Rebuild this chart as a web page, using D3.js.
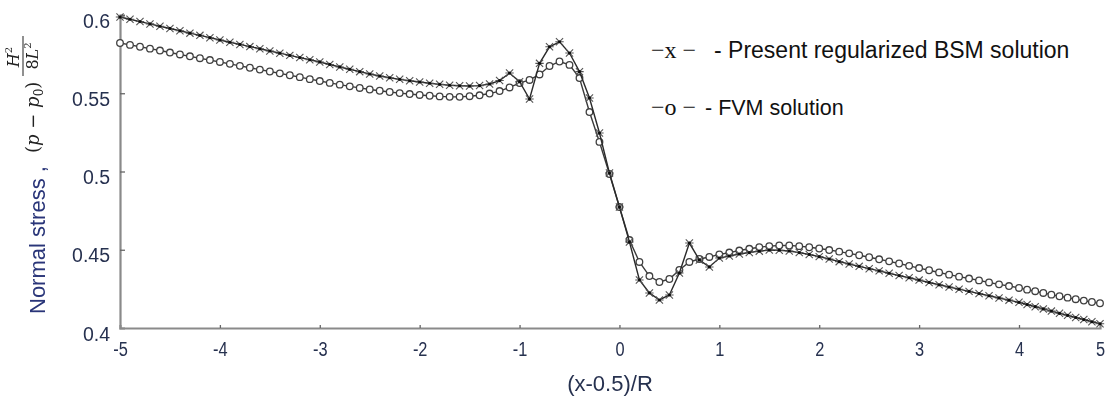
<!DOCTYPE html>
<html>
<head>
<meta charset="utf-8">
<script src="https://cdn.jsdelivr.net/npm/d3@7"></script>
<style>
  body { margin: 0; background: #fff; }
  svg { display: block; }
</style>
</head>
<body>
<svg id="chart" width="1112" height="402"></svg>
<script>
// Abscissa grid, (x-0.5)/R
const xGrid = [
  -5.0,-4.9,-4.8,-4.7,-4.6,-4.5,-4.4,-4.3,-4.2,-4.1,
  -4.0,-3.9,-3.8,-3.7,-3.6,-3.5,-3.4,-3.3,-3.2,-3.1,
  -3.0,-2.9,-2.8,-2.7,-2.6,-2.5,-2.4,-2.3,-2.2,-2.1,
  -2.0,-1.9,-1.8,-1.7,-1.6,-1.5,-1.4,-1.3,-1.2,-1.1,
  -1.0,-0.9,-0.8,-0.7,-0.6,-0.5,-0.4,-0.3,-0.2,-0.1,
   0.0, 0.1, 0.2, 0.3, 0.4, 0.5, 0.6, 0.7, 0.8, 0.9,
   1.0, 1.1, 1.2, 1.3, 1.4, 1.5, 1.6, 1.7, 1.8, 1.9,
   2.0, 2.1, 2.2, 2.3, 2.4, 2.5, 2.6, 2.7, 2.8, 2.9,
   3.0, 3.1, 3.2, 3.3, 3.4, 3.5, 3.6, 3.7, 3.8, 3.9,
   4.0, 4.1, 4.2, 4.3, 4.4, 4.5, 4.6, 4.7, 4.8, 4.9,
   5.0
];

// Present regularized BSM solution
const bsmValues = [
  0.5987,0.5973,0.5958,0.5943,0.5928,0.5914,0.5899,0.5884,0.5870,0.5855,
  0.5840,0.5826,0.5812,0.5798,0.5784,0.5770,0.5756,0.5742,0.5728,0.5714,
  0.5700,0.5684,0.5668,0.5653,0.5638,0.5623,0.5610,0.5599,0.5589,0.5580,
  0.5572,0.5564,0.5557,0.5551,0.5548,0.5546,0.5549,0.5559,0.5581,0.5629,
  0.5574,0.5463,0.5691,0.5797,0.5829,0.5757,0.5638,0.5470,0.5246,0.4990,
  0.4773,0.4550,0.4307,0.4224,0.4179,0.4211,0.4351,0.4543,0.4435,0.4390,
  0.4447,0.4460,0.4473,0.4482,0.4491,0.4498,0.4497,0.4492,0.4482,0.4470,
  0.4456,0.4441,0.4424,0.4409,0.4394,0.4379,0.4365,0.4350,0.4335,0.4321,
  0.4306,0.4291,0.4276,0.4262,0.4248,0.4234,0.4220,0.4206,0.4192,0.4178,
  0.4164,0.4150,0.4136,0.4122,0.4108,0.4094,0.4081,0.4067,0.4054,0.4040,
  0.4027
];

// FVM solution
const fvmValues = [
  0.5821,0.5809,0.5797,0.5785,0.5773,0.5760,0.5748,0.5736,0.5724,0.5712,
  0.5700,0.5688,0.5675,0.5663,0.5651,0.5639,0.5627,0.5615,0.5603,0.5590,
  0.5578,0.5566,0.5555,0.5544,0.5534,0.5524,0.5516,0.5508,0.5501,0.5495,
  0.5489,0.5484,0.5480,0.5477,0.5477,0.5481,0.5487,0.5498,0.5514,0.5537,
  0.5565,0.5585,0.5620,0.5674,0.5703,0.5681,0.5597,0.5380,0.5189,0.4984,
  0.4773,0.4562,0.4422,0.4332,0.4294,0.4313,0.4371,0.4422,0.4441,0.4454,
  0.4470,0.4482,0.4495,0.4506,0.4516,0.4523,0.4527,0.4527,0.4523,0.4516,
  0.4508,0.4498,0.4488,0.4477,0.4465,0.4452,0.4439,0.4426,0.4412,0.4397,
  0.4383,0.4369,0.4355,0.4341,0.4328,0.4316,0.4304,0.4291,0.4279,0.4268,
  0.4256,0.4245,0.4235,0.4224,0.4213,0.4203,0.4194,0.4184,0.4175,0.4166,
  0.4158
];

const xTicks = [-5, -4, -3, -2, -1, 0, 1, 2, 3, 4, 5];
const yTicks = [0.4, 0.45, 0.5, 0.55, 0.6];
const yTickLabels = ["0.4", "0.45", "0.5", "0.55", "0.6"];

const svg = d3.select("#chart");
svg.append("rect").attr("width", 1112).attr("height", 402).attr("fill", "#fff");

// The last unit of the axis is drawn narrower than the others
const x = d3.scaleLinear().domain([-5, 4, 5]).range([120, 1019, 1100]);
const y = d3.scaleLinear().domain([0.4, 0.6]).range([328, 15]);

const defs = svg.append("defs");
defs.append("filter").attr("id", "soft")
  .attr("x", "-5%").attr("y", "-5%").attr("width", "110%").attr("height", "110%")
  .append("feGaussianBlur").attr("stdDeviation", 0.65);
defs.append("filter").attr("id", "softText")
  .append("feGaussianBlur").attr("stdDeviation", 0.35);

// Axes
const axisColor = "#8a8a8a";
const sans = "'Liberation Sans', Arial, sans-serif";
const labelColor = "#26304f";

const xAxis = svg.append("g").attr("transform", `translate(0,${y(0.4)})`)
  .call(d3.axisBottom(x).tickValues(xTicks).tickSize(-3).tickPadding(13).tickFormat(d => d));
const yAxis = svg.append("g").attr("transform", `translate(${x(-5)},0)`)
  .call(d3.axisLeft(y).tickValues(yTicks).tickSize(-5).tickPadding(10)
    .tickFormat((d, i) => yTickLabels[i]));

[xAxis, yAxis].forEach(g => {
  g.select(".domain").attr("stroke", axisColor).attr("stroke-width", 2.2);
  g.selectAll(".tick line").attr("stroke", "#666").attr("stroke-width", 1.3);
  g.selectAll(".tick text")
    .attr("fill", labelColor)
    .attr("filter", "url(#softText)")
    .style("font-family", sans)
    .style("font-size", "19.5px");
});
yAxis.selectAll(".tick text").attr("dy", "0.62em");
// Tall, narrow x tick labels
xAxis.selectAll(".tick text")
  .style("font-size", "21px")
  .attr("transform", "scale(0.78,1)")
  .attr("dy", "0.72em");
yAxis.selectAll(".tick").filter(d => d === 0.4).select("line").attr("stroke", "none");
xAxis.selectAll(".tick").filter(d => d === -5 || d === 5).select("line").attr("stroke", "none");

// Series
const line = d3.line().x((d, i) => x(xGrid[i])).y(d => y(d));
const plot = svg.append("g").attr("filter", "url(#soft)");

// FVM: open circles
plot.append("path").datum(fvmValues)
  .attr("d", line).attr("fill", "none").attr("stroke", "#3a3a3a").attr("stroke-width", 1.4);
plot.append("g").selectAll("circle").data(fvmValues).join("circle")
  .attr("cx", (d, i) => x(xGrid[i])).attr("cy", d => y(d)).attr("r", 3.3)
  .attr("fill", "#fff").attr("stroke", "#404040").attr("stroke-width", 1.3);

// BSM: star markers
plot.append("path").datum(bsmValues)
  .attr("d", line).attr("fill", "none").attr("stroke", "#2a2a2a").attr("stroke-width", 1.4);
const star = "M-3.6,-3.6L3.6,3.6M-3.6,3.6L3.6,-3.6M-4.2,0L4.2,0";
plot.append("g").selectAll("path").data(bsmValues).join("path")
  .attr("transform", (d, i) => `translate(${x(xGrid[i])},${y(d)})`)
  .attr("d", star).attr("fill", "none").attr("stroke", "#555").attr("stroke-width", 1.1);
plot.append("g").selectAll("circle").data(bsmValues).join("circle")
  .attr("cx", (d, i) => x(xGrid[i])).attr("cy", d => y(d)).attr("r", 1.6)
  .attr("fill", "#111");

// X axis title
svg.append("text")
  .attr("x", 610).attr("y", 391)
  .attr("text-anchor", "middle")
  .attr("fill", labelColor)
  .attr("filter", "url(#softText)")
  .style("font-family", sans)
  .style("font-size", "22px")
  .text("(x-0.5)/R");

// Y axis title: "Normal stress , (p − p0) H²/8L²"
const yTitle = svg.append("g").attr("transform", "translate(45,314) rotate(-90)")
  .attr("filter", "url(#softText)");
yTitle.append("text")
  .attr("x", 0).attr("y", 0)
  .attr("fill", "#2a3679")
  .style("font-family", sans)
  .style("font-size", "22px")
  .text("Normal stress ,");
const mathFont = "'DejaVu Serif', 'Liberation Serif', serif";
const paren = yTitle.append("text")
  .attr("x", 161).attr("y", -6)
  .attr("fill", "#222")
  .style("font-family", mathFont)
  .style("font-size", "18px");
paren.append("tspan").text("(");
paren.append("tspan").style("font-style", "italic").text("p");
paren.append("tspan").text(" − ");
paren.append("tspan").style("font-style", "italic").text("p");
paren.append("tspan").attr("dy", 4).style("font-size", "12px").text("0");
paren.append("tspan").attr("dy", -4).text(")");
// fraction
yTitle.append("line")
  .attr("x1", 238).attr("x2", 278).attr("y1", -22).attr("y2", -22)
  .attr("stroke", "#222").attr("stroke-width", 1.2);
const num = yTitle.append("text")
  .attr("x", 257).attr("y", -26).attr("text-anchor", "middle")
  .attr("fill", "#222").style("font-family", mathFont).style("font-size", "16px");
num.append("tspan").style("font-style", "italic").text("H");
num.append("tspan").attr("dy", -7).style("font-size", "10px").text("2");
const den = yTitle.append("text")
  .attr("x", 258).attr("y", -7).attr("text-anchor", "middle")
  .attr("fill", "#222").style("font-family", mathFont).style("font-size", "16px");
den.append("tspan").text("8");
den.append("tspan").style("font-style", "italic").text("L");
den.append("tspan").attr("dy", -7).style("font-size", "10px").text("2");

// Legend
const legendSerif = "'Liberation Serif', 'DejaVu Serif', serif";
const legendItems = [
  { key: "−x −", label: "- Present regularized BSM solution", y: 58, lx: 714, size: 23 },
  { key: "−o −", label: "- FVM solution", y: 115, lx: 705, size: 21.5 }
];
legendItems.forEach(item => {
  svg.append("text")
    .attr("x", 651).attr("y", item.y)
    .attr("fill", "#111")
    .style("font-family", legendSerif).style("font-size", "24px")
    .text(item.key);
  svg.append("text")
    .attr("x", item.lx).attr("y", item.y)
    .attr("fill", "#111")
    .style("font-family", sans).style("font-size", item.size + "px")
    .text(item.label);
});
</script>
</body>
</html>
